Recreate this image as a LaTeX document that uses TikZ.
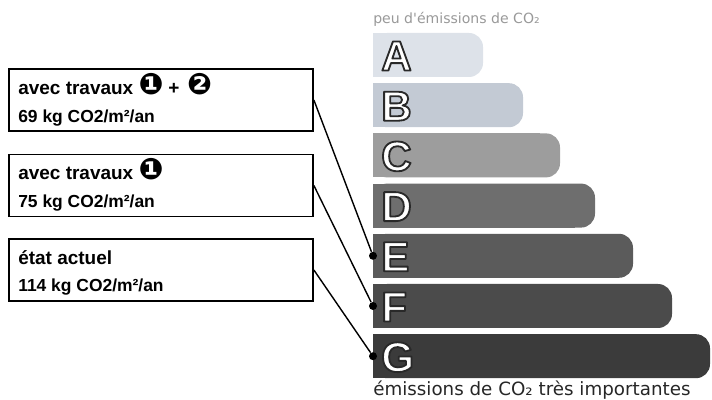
\documentclass[tikz,border=0pt]{standalone}
\usepackage{fontspec}
\setmainfont{Liberation Sans}
\newfontfamily\legendfont{DejaVu Sans}
\newfontfamily\dingfont{DejaVu Sans}

\definecolor{classA}{HTML}{DDE2E9}
\definecolor{classB}{HTML}{C3CAD4}
\definecolor{classC}{HTML}{9D9D9D}
\definecolor{classD}{HTML}{6E6E6E}
\definecolor{classE}{HTML}{5B5B5B}
\definecolor{classF}{HTML}{4B4B4B}
\definecolor{classG}{HTML}{3B3B3B}

% white letter with a dark rim (fill and stroke text)
\newcommand{\outlined}[1]{%
  \special{pdf:literal direct 0.16 G 2 Tr 1.3 w 1 j}#1\special{pdf:literal direct 0 Tr}}
\newcommand{\step}[1]{{\dingfont\fontsize{21}{21}\selectfont #1}}

\tikzset{
  infobox/.style={draw, line width=1.2pt, minimum width=7.6cm, minimum height=1.55cm, inner sep=0pt},
  headline/.style={anchor=base west, inner sep=0pt, font=\bfseries\fontsize{13.5}{16}\selectfont},
  valueline/.style={anchor=base west, inner sep=0pt, font=\bfseries\fontsize{12.4}{14}\selectfont},
  letter/.style={anchor=west, inner sep=0pt, text=white, font=\bfseries\fontsize{30}{30}\selectfont},
  dot/.style={circle, fill=black, inner sep=0pt, minimum size=0.2cm},
  link/.style={line width=1pt}
}

\begin{document}
\begin{tikzpicture}[x=0.025cm, y=-0.025cm]
\useasboundingbox (0,0) rectangle (712,400);

% scale of classes
\node [anchor=base west, inner sep=0pt, text=black!40, font=\legendfont\fontsize{10}{12}\selectfont] (lowlabel) at (373,24) {peu d'émissions de CO₂};
\foreach \cls/\len [count=\i from 0] in {A/110,B/150,C/187,D/222,E/260,F/299,G/337} {
  \pgfmathsetmacro{\bartop}{33+50.2*\i}
  \fill [class\cls, rounded corners=0.35cm] (373,\bartop) rectangle ++(\len,44);
  \fill [class\cls] (373,\bartop) rectangle ++(\len-20,44);
  \coordinate (edge\cls) at (373,\bartop+22);
  \node [letter] (let\cls) at (381,\bartop+23) {\outlined{\cls}};
}
\node [anchor=base west, inner sep=0pt, text=black!85, font=\legendfont\fontsize{13}{15}\selectfont] (highlabel) at (373,396) {émissions de CO₂ très importantes};

% cases
\node [infobox] (box1) at (161,100) {};
\node [headline] (head1) at (18,95) {avec travaux \step{❶}\hspace{0.25em}+\hspace{0.4em}\step{❷}};
\node [valueline] (val1) at (18,123) {69 kg CO2/m²/an};

\node [infobox] (box2) at (161,185.5) {};
\node [headline] (head2) at (18,180) {avec travaux \step{❶}};
\node [valueline] (val2) at (18,208) {75 kg CO2/m²/an};

\node [infobox] (box3) at (161,270) {};
\node [headline] (head3) at (18,265) {état actuel};
\node [valueline] (val3) at (18,292) {114 kg CO2/m²/an};

\node [dot] (dotE) at (edgeE) {};
\node [dot] (dotF) at (edgeF) {};
\node [dot] (dotG) at (edgeG) {};
\draw [link] (box1.east) -- (dotE);
\draw [link] (box2.east) -- (dotF);
\draw [link] (box3.east) -- (dotG);
\end{tikzpicture}
\end{document}
